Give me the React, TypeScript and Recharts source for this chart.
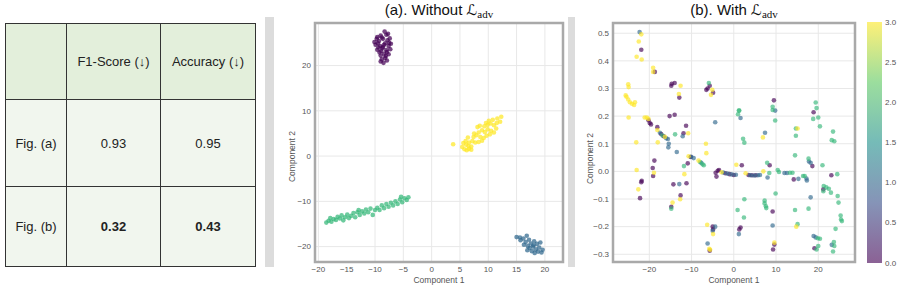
import React from 'react';
import { ScatterChart, Scatter, XAxis, YAxis, CartesianGrid, ReferenceArea, Label } from 'recharts';

type Pt = [number, number];

// table
const tableHeader = ['', 'F1-Score (\u2193)', 'Accuracy (\u2193)'];
const tableRows = ['Fig. (a)', 'Fig. (b)'];
const f1Scores = ['0.93', '0.32'];
const accuracies = ['0.95', '0.43'];

// (a) Without L_adv : four tight clusters
const aPurple: Pt[] = [
  [-9.6, 26.3], [-9.0, 26.6], [-8.3, 27.5], [-8.0, 26.8], [-8.6, 25.9], [-9.3, 25.4], [-7.8, 25.6], [-7.5, 25.0],
  [-8.2, 24.9], [-9.9, 24.6], [-9.1, 24.3], [-8.6, 24.1], [-7.6, 24.3], [-7.3, 23.6], [-8.0, 23.4], [-8.9, 23.2],
  [-9.6, 23.5], [-10.1, 25.2], [-8.4, 22.6], [-7.6, 22.5], [-9.0, 22.2], [-8.2, 21.7], [-7.9, 21.1], [-8.5, 20.6],
  [-8.8, 21.4], [-9.4, 24.0], [-7.4, 26.0], [-8.8, 26.2], [-9.7, 25.9], [-7.9, 23.0], [-8.4, 24.6], [-9.2, 22.9],
  [-7.2, 24.8], [-8.1, 22.1], [-9.5, 24.9], [-7.7, 27.0], [-8.7, 23.8], [-9.0, 20.9],
];
const aBlue: Pt[] = [
  [15.0, -17.9], [15.6, -18.0], [16.2, -18.2], [16.8, -17.6], [17.2, -18.5], [16.6, -19.0], [17.5, -19.3], [18.1, -18.8],
  [18.6, -19.4], [19.2, -19.1], [17.9, -20.0], [17.3, -20.3], [18.4, -20.6], [19.0, -20.2], [19.6, -20.7], [17.7, -21.0],
  [18.2, -21.4], [16.9, -20.8], [16.3, -19.6], [18.8, -21.1], [17.0, -19.9], [19.4, -21.3], [15.7, -18.6], [18.0, -19.7],
];
const aGreen: Pt[] = [
  [-18.6, -14.7], [-18.2, -14.3], [-17.7, -14.5], [-17.3, -13.9], [-16.9, -14.1], [-16.6, -13.4], [-16.2, -13.8],
  [-15.9, -13.1], [-15.6, -14.2], [-15.3, -13.5], [-14.9, -12.9], [-14.6, -13.7], [-14.2, -13.2], [-13.8, -12.6],
  [-13.5, -13.5], [-13.1, -12.4], [-12.7, -13.0], [-12.3, -12.2], [-11.9, -12.7], [-11.6, -11.8], [-11.2, -12.4],
  [-10.8, -11.6], [-10.4, -13.0], [-10.0, -11.9], [-9.6, -11.4], [-9.2, -11.9], [-8.8, -10.9], [-8.4, -11.5],
  [-8.0, -10.6], [-7.6, -11.2], [-7.2, -10.3], [-6.8, -10.9], [-6.4, -10.0], [-6.0, -10.6], [-5.6, -9.6],
  [-5.2, -10.2], [-4.8, -9.3], [-4.4, -9.7], [-4.1, -9.1], [-5.4, -9.0], [-17.9, -13.7], [-12.9, -11.9],
];
const aYellow: Pt[] = [
  [3.8, 2.6], [5.4, 2.0], [5.8, 1.5], [6.2, 1.3], [6.6, 1.6], [7.0, 1.4], [5.6, 2.9], [6.1, 2.5], [6.5, 2.2],
  [7.0, 2.1], [6.0, 3.3], [6.6, 3.0], [7.2, 3.3], [7.7, 3.0], [8.3, 3.1], [8.9, 3.4], [7.4, 4.2], [7.9, 4.6],
  [8.6, 4.2], [9.2, 4.0], [9.7, 4.5], [10.3, 4.8], [8.3, 5.2], [8.9, 5.7], [9.4, 5.3], [9.9, 5.9], [10.5, 5.6],
  [11.0, 5.2], [8.1, 6.4], [8.5, 6.7], [9.3, 6.6], [9.9, 6.9], [10.4, 7.2], [11.0, 6.8], [11.5, 7.3], [10.1, 7.8],
  [10.8, 8.0], [11.6, 8.3], [12.3, 8.7], [12.1, 7.6], [11.4, 6.1], [9.6, 7.3], [7.5, 5.0], [6.4, 4.1],
];

// (b) With L_adv : scattered
const bPurple: Pt[] = [
  [-21.9, 0.44], [-18.7, 0.36], [-20.2, 0.185], [-19.9, 0.175], [-19.6, 0.17], [-18.1, 0.16], [-17.2, 0.135],
  [-16.6, 0.127], [-14.0, 0.32], [-14.7, 0.317], [-14.8, 0.31], [-12.9, 0.267], [-15.2, 0.2], [-14.0, 0.205],
  [-11.3, 0.165], [-11.9, 0.138], [-5.7, 0.31], [-6.2, 0.3], [-6.5, 0.295], [-4.9, 0.285], [-10.9, 0.029],
  [-18.8, 0.039], [-19.2, 0.012], [-19.1, -0.017], [-21.8, -0.034], [-21.9, -0.039], [-22.2, -0.097],
  [-14.3, -0.047], [-11.2, -0.043], [-12.6, -0.087], [-14.8, -0.128], [-4.3, -0.005], [-3.8, 0.002],
  [-4.1, -0.019], [-3.5, 0.005], [-2.0, -0.007], [-1.0, -0.01], [0.0, -0.013], [1.9, 0.022], [3.5, -0.013],
  [4.3, -0.014], [5.2, -0.014], [8.5, 0.022], [14.2, -0.029], [18.6, 0.019], [23.1, -0.014], [21.2, -0.065],
  [19.1, -0.278], [9.2, -0.145], [9.6, -0.265], [9.3, -0.283], [1.6, -0.203], [1.3, -0.21], [-5.0, -0.2],
  [-4.9, -0.21], [-5.7, -0.287], [9.5, 0.257], [18.9, 0.214], [-10.2, 0.052],
];
const bBlue: Pt[] = [
  [-22.3, 0.504], [-17.5, 0.14], [-16.0, 0.12], [-15.6, 0.117], [-15.4, 0.1], [-15.5, 0.087], [-12.1, 0.127],
  [-13.5, 0.07], [-4.4, 0.178], [1.6, 0.193], [-10.1, 0.053], [-9.5, 0.048], [-7.7, 0.031], [-12.9, -0.046],
  [-1.5, -0.008], [-0.5, -0.011], [0.5, -0.012], [3.9, -0.014], [4.8, -0.015], [5.7, -0.014], [6.2, -0.013],
  [8.0, -0.022], [12.0, -0.006], [12.6, -0.006], [15.3, -0.027], [17.2, -0.026], [17.3, -0.033], [17.8, 0.036],
  [18.2, 0.031], [18.2, -0.094], [18.9, -0.234], [19.4, -0.239], [23.2, -0.266], [9.2, -0.196], [1.2, -0.227],
  [-4.4, -0.2], [-5.0, -0.215], [-6.2, -0.261], [9.8, 0.22], [7.4, 0.14], [-2.5, -0.004],
];
const bGreen: Pt[] = [
  [-5.9, 0.32], [1.2, 0.22], [1.0, 0.207], [-16.9, 0.13], [-13.9, 0.134], [-11.8, 0.019], [-8.0, 0.034],
  [-7.1, 0.022], [-14.8, -0.135], [7.9, 0.031], [8.4, -0.006], [10.4, 0.005], [10.7, -0.002], [13.3, -0.005],
  [13.9, -0.005], [16.4, -0.017], [16.8, -0.017], [14.5, 0.058], [17.7, 0.046], [21.0, 0.022], [24.5, -0.01],
  [21.3, -0.053], [21.9, -0.058], [22.5, -0.063], [23.0, -0.077], [21.2, -0.072], [24.6, -0.089], [24.8, -0.113],
  [25.3, -0.16], [25.4, -0.174], [25.6, -0.18], [24.1, -0.208], [23.7, -0.256], [23.8, -0.27], [23.5, -0.29],
  [19.9, -0.242], [20.4, -0.244], [20.0, -0.27], [19.6, -0.283], [17.7, -0.135], [14.5, -0.14], [9.9, -0.08],
  [15.1, -0.191], [7.3, -0.106], [7.3, -0.116], [7.6, -0.126], [7.7, -0.133], [2.5, -0.101], [0.9, -0.14],
  [2.4, -0.167], [1.3, 0.22], [2.2, 0.118], [2.5, 0.104], [9.2, 0.234], [9.2, 0.222], [9.8, 0.184], [14.7, 0.155],
  [14.7, 0.129], [19.4, 0.249], [19.6, 0.229], [18.8, 0.19], [20.0, 0.195], [20.4, 0.163], [23.5, 0.144],
  [23.2, 0.113], [23.8, 0.109], [-7.4, 0.026],
];
const bYellow: Pt[] = [
  [-21.9, 0.496], [-22.5, 0.47], [-23.0, 0.415], [-21.8, 0.405], [-19.1, 0.375], [-19.1, 0.36], [-25.0, 0.315],
  [-24.9, 0.305], [-25.6, 0.275], [-25.4, 0.27], [-25.0, 0.26], [-24.6, 0.25], [-24.1, 0.245], [-23.6, 0.24],
  [-23.4, 0.25], [-24.9, 0.195], [-21.1, 0.195], [-20.6, 0.195], [-20.2, 0.19], [-18.1, 0.15], [-16.3, 0.125],
  [-12.6, 0.31], [-13.0, 0.28], [-10.8, 0.138], [-18.0, 0.105], [-23.1, 0.105], [-5.1, 0.295], [-5.4, 0.277],
  [-6.6, 0.1], [-6.5, 0.066], [-10.7, 0.055], [-8.35, 0.039], [-11.7, -0.01], [-18.9, -0.005], [-23.0, 0.005],
  [-22.6, -0.065], [-12.7, -0.101], [-14.5, -0.113], [-2.9, -0.003], [0.6, 0.024], [2.8, -0.007], [7.0, 0.0],
  [6.9, 0.123], [15.1, 0.155], [14.8, -0.2], [9.6, -0.258], [-6.3, -0.193], [-4.9, -0.227], [-5.8, -0.28],
  [-5.6, -0.284],
];

const aXTicks = [-20, -15, -10, -5, 0, 5, 10, 15, 20];
const aYTicks = [-20, -10, 0, 10, 20];
const bXTicks = [-20, -10, 0, 10, 20];
const bYTicks = [-0.3, -0.2, -0.1, 0, 0.1, 0.2, 0.3, 0.4, 0.5];
const cbarTicks = [0, 0.5, 1, 1.5, 2, 2.5, 3];

const VIRIDIS = ['#440154', '#31688e', '#35b779', '#fde725'];
const FONT = '"Liberation Sans", Arial, sans-serif';
const tickStyle = { fontSize: 8, fill: '#555', fontFamily: FONT };

const toXY = (pts: Pt[]) => pts.map(([x, y]) => ({ x, y }));
const fmtInt = (v: number) => String(v).replace('-', '\u2212');
const fmtDec = (v: number) => v.toFixed(1).replace('-', '\u2212');

const dot = (color: string, opacity: number) => (p: any) => (
  <circle cx={p.cx} cy={p.cy} r={2.3} fill={color} fillOpacity={opacity} />
);

const yTitle = (dx: number, dy: number) => (p: any) => {
  const vb = p.viewBox || { x: 0, y: 0, width: 0, height: 0 };
  const x = vb.x + dx;
  const y = vb.y + vb.height / 2 + dy;
  return (
    <text x={x} y={y} transform={`rotate(-90 ${x} ${y})`} textAnchor="middle" dominantBaseline="central"
      fontSize={8.5} fill="#555" fontFamily={FONT}>
      Component 2
    </text>
  );
};

const Title = ({ tag, text, center }: { tag: string; text: string; center: number }) => (
  <div style={{ position: 'absolute', left: center - 100, top: 0, width: 200, textAlign: 'center',
    fontFamily: FONT, fontSize: 15, lineHeight: '19px', color: '#111', whiteSpace: 'nowrap' }}>
    {tag}. {text} <span style={{ fontFamily: '"DejaVu Sans", serif' }}>{'\u2112'}</span>
    <span style={{ fontFamily: '"Liberation Serif", serif', fontSize: 11, position: 'relative', top: 3 }}>adv</span>
  </div>
);

const Frame = ({ x, y }: { x: [number, number]; y: [number, number] }) => (
  <ReferenceArea x1={x[0]} x2={x[1]} y1={y[0]} y2={y[1]} fill="none" stroke="#a9a9a9" strokeWidth={2.5} ifOverflow="visible" />
);

const ScatterA = () => {
  const xd: [number, number] = [-20.6, 23.2];
  const yd: [number, number] = [-23.4, 29.4];
  return (
    <ScatterChart width={300} height={286} margin={{ top: 23, right: 7, left: 0, bottom: 0 }}>
      <CartesianGrid stroke="#e8e8e8" />
      <XAxis type="number" dataKey="x" domain={xd} ticks={aXTicks} tickFormatter={fmtInt} allowDataOverflow
        axisLine={false} tickLine={false} tickSize={0} tickMargin={4} height={24} tick={tickStyle}>
        <Label value="Component 1" position="insideBottom" offset={3} style={{ fontSize: 8.5, fill: '#555', fontFamily: FONT }} />
      </XAxis>
      <YAxis type="number" dataKey="y" domain={yd} ticks={aYTicks} tickFormatter={fmtInt} allowDataOverflow
        axisLine={false} tickLine={false} tickSize={0} tickMargin={4} width={45} tick={tickStyle}>
        <Label content={yTitle(22, 14)} />
      </YAxis>
      <Scatter data={toXY(aPurple)} isAnimationActive={false} shape={dot(VIRIDIS[0], 0.72)} />
      <Scatter data={toXY(aBlue)} isAnimationActive={false} shape={dot(VIRIDIS[1], 0.72)} />
      <Scatter data={toXY(aGreen)} isAnimationActive={false} shape={dot(VIRIDIS[2], 0.72)} />
      <Scatter data={toXY(aYellow)} isAnimationActive={false} shape={dot(VIRIDIS[3], 0.72)} />
      <Frame x={xd} y={yd} />
    </ScatterChart>
  );
};

const ScatterB = () => {
  const xd: [number, number] = [-28.6, 28.7];
  const yd: [number, number] = [-0.328, 0.537];
  return (
    <ScatterChart width={327} height={286} margin={{ top: 23, right: 42, left: 0, bottom: 0 }}>
      <CartesianGrid stroke="#e8e8e8" />
      <XAxis type="number" dataKey="x" domain={xd} ticks={bXTicks} tickFormatter={fmtInt} allowDataOverflow
        axisLine={false} tickLine={false} tickSize={0} tickMargin={4} height={24} tick={tickStyle}>
        <Label value="Component 1" position="insideBottom" offset={3} style={{ fontSize: 8.5, fill: '#555', fontFamily: FONT }} />
      </XAxis>
      <YAxis type="number" dataKey="y" domain={yd} ticks={bYTicks} tickFormatter={fmtDec} allowDataOverflow
        axisLine={false} tickLine={false} tickSize={0} tickMargin={4} width={43} tick={tickStyle}>
        <Label content={yTitle(20, 16)} />
      </YAxis>
      <Scatter data={toXY(bPurple)} isAnimationActive={false} shape={dot(VIRIDIS[0], 0.65)} />
      <Scatter data={toXY(bBlue)} isAnimationActive={false} shape={dot(VIRIDIS[1], 0.65)} />
      <Scatter data={toXY(bGreen)} isAnimationActive={false} shape={dot(VIRIDIS[2], 0.65)} />
      <Scatter data={toXY(bYellow)} isAnimationActive={false} shape={dot(VIRIDIS[3], 0.65)} />
      <Frame x={xd} y={yd} />
    </ScatterChart>
  );
};

const ColorBar = () => {
  const top = 22;
  const h = 241;
  return (
    <svg width={37} height={286} style={{ position: 'absolute', left: 860, top: 0 }}>
      <defs>
        <linearGradient id="viridis" x1="0" y1="1" x2="0" y2="0">
          <stop offset="0" stopColor="#440154" />
          <stop offset="0.25" stopColor="#3b528b" />
          <stop offset="0.5" stopColor="#21918c" />
          <stop offset="0.75" stopColor="#5ec962" />
          <stop offset="1" stopColor="#fde725" />
        </linearGradient>
      </defs>
      <rect x={7} y={top} width={15} height={h} fill="url(#viridis)" fillOpacity={0.62} />
      {cbarTicks.map((t) => (
        <text key={t} x={25} y={top + h - (t / 3) * h} dominantBaseline="central" fontSize={8} fill="#555" fontFamily={FONT}>
          {t.toFixed(1)}
        </text>
      ))}
    </svg>
  );
};

const cell: React.CSSProperties = { border: '1.3px solid #333', textAlign: 'center', padding: 0 };

export default function App() {
  return (
    <div style={{ position: 'absolute', left: 0, top: 0, width: 897, height: 286, background: '#fff', overflow: 'hidden' }}>
      <table style={{ position: 'absolute', left: 5, top: 23, width: 250, height: 243, borderCollapse: 'collapse',
        fontFamily: FONT, fontSize: 13, color: '#222', tableLayout: 'fixed' }}>
        <colgroup>
          <col style={{ width: 61 }} />
          <col style={{ width: 94 }} />
          <col style={{ width: 95 }} />
        </colgroup>
        <tbody>
          <tr style={{ height: 76, background: '#e3efdb' }}>
            {tableHeader.map((h, i) => (
              <td key={i} style={cell}>{h}</td>
            ))}
          </tr>
          {tableRows.map((r, i) => (
            <tr key={r} style={{ height: i === 0 ? 87 : 80, background: '#f1f6ee' }}>
              <td style={cell}>{r}</td>
              <td style={{ ...cell, fontWeight: i === 1 ? 'bold' : 'normal' }}>{f1Scores[i]}</td>
              <td style={{ ...cell, fontWeight: i === 1 ? 'bold' : 'normal' }}>{accuracies[i]}</td>
            </tr>
          ))}
        </tbody>
      </table>

      <div style={{ position: 'absolute', left: 265, top: 17, width: 9, height: 250, background: '#dcdcdc' }} />
      <div style={{ position: 'absolute', left: 568, top: 17, width: 7, height: 250, background: '#dcdcdc' }} />

      <Title tag="(a)" text="Without" center={439} />
      <Title tag="(b)" text="With" center={734} />

      <div style={{ position: 'absolute', left: 270, top: 0 }}>
        <ScatterA />
      </div>
      <div style={{ position: 'absolute', left: 570, top: 0 }}>
        <ScatterB />
      </div>
      <ColorBar />
    </div>
  );
}
